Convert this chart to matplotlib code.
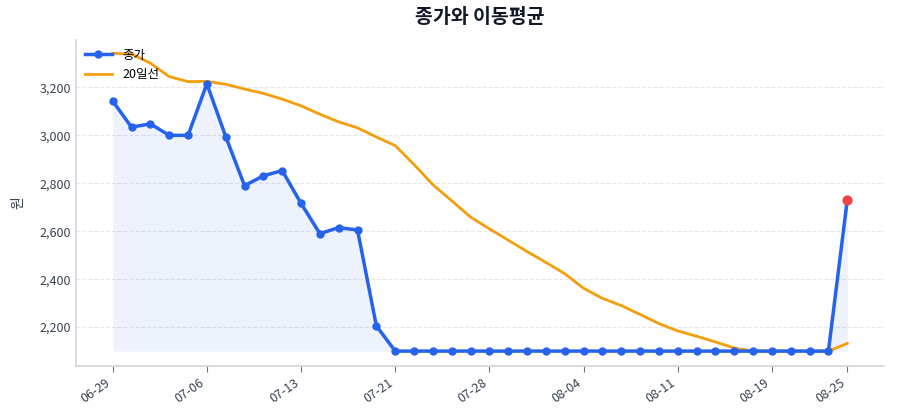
import matplotlib
matplotlib.use("Agg")
import matplotlib.pyplot as plt
from matplotlib.ticker import FuncFormatter

plt.rcParams['font.family'] = ['Noto Sans CJK KR', 'DejaVu Sans']

# 날짜 (거래일 기준)
dates = ["06-29", "06-30", "07-01", "07-02", "07-03",
         "07-06", "07-07", "07-08", "07-09", "07-10",
         "07-13", "07-14", "07-15", "07-16", "07-17",
         "07-21", "07-22", "07-23", "07-24", "07-25",
         "07-28", "07-29", "07-30", "07-31", "08-01",
         "08-04", "08-05", "08-06", "08-07", "08-08",
         "08-11", "08-12", "08-13", "08-14", "08-18",
         "08-19", "08-20", "08-21", "08-22", "08-25"]

# 종가
close = [3143, 3034, 3048, 3000, 3000,
         3215, 2995, 2790, 2831, 2853,
         2716, 2590, 2615, 2605, 2205,
         2100, 2100, 2100, 2100, 2100,
         2100, 2100, 2100, 2100, 2100,
         2100, 2100, 2100, 2100, 2100,
         2100, 2100, 2100, 2100, 2100,
         2100, 2100, 2100, 2100, 2730]

# 20일 이동평균
ma20 = [3342, 3339, 3301, 3245, 3224,
        3225, 3213, 3193, 3175, 3151,
        3123, 3088, 3056, 3031, 2993,
        2957, 2878, 2794, 2727, 2659,
        2610, 2563, 2515, 2470, 2423,
        2362, 2320, 2290, 2253, 2215,
        2184, 2162, 2138, 2113, 2100,
        2100, 2100, 2100, 2100, 2132]

tick_idx = [0, 5, 10, 15, 20, 25, 30, 35, 39]

BLUE = "#2563eb"
ORANGE = "#f59e0b"
RED = "#ef4444"

x = list(range(len(dates)))

fig = plt.figure(figsize=(9, 4.2), dpi=100)
ax = fig.add_axes([0.0844, 0.1286, 0.8978, 0.7764])

ax.fill_between(x, close, min(close), color=BLUE, alpha=0.08, linewidth=0, zorder=1)
l_ma, = ax.plot(x, ma20, color=ORANGE, linewidth=2, label="20일선", zorder=2)
l_close, = ax.plot(x, close, color=BLUE, linewidth=2.5, marker="o", markersize=5, label="종가", zorder=3)
ax.scatter([x[-1]], [close[-1]], color=RED, s=40, zorder=4)

ax.set_xticks(tick_idx)
ax.set_xticklabels([dates[i] for i in tick_idx], rotation=35, ha="right", fontsize=9, color="#374151")
ax.yaxis.set_major_formatter(FuncFormatter(lambda v, p: f"{int(v):,}"))
ax.tick_params(axis="y", length=0, labelsize=9, labelcolor="#374151")
ax.tick_params(axis="x", length=4, color="#6b7280")

lo, hi = ax.get_ylim()
ax.set_ylim(lo, min(hi, 3398))

ax.grid(axis="y", linestyle="--", color="#e5e7eb", linewidth=0.8)
ax.set_axisbelow(True)
for s in ["top", "right"]:
    ax.spines[s].set_visible(False)
for s in ["left", "bottom"]:
    ax.spines[s].set_color("#d1d5db")
    ax.spines[s].set_linewidth(1.2)

ax.set_ylabel("원", fontsize=10, color="#374151", labelpad=10)
ax.set_title("종가와 이동평균", fontsize=14, fontweight="bold", color="#111827", pad=12)

ax.legend(handles=[l_close, l_ma], loc="upper left", frameon=False, fontsize=9,
          borderaxespad=0.3, handlelength=2.2)

fig.savefig("out.png", dpi=100)
